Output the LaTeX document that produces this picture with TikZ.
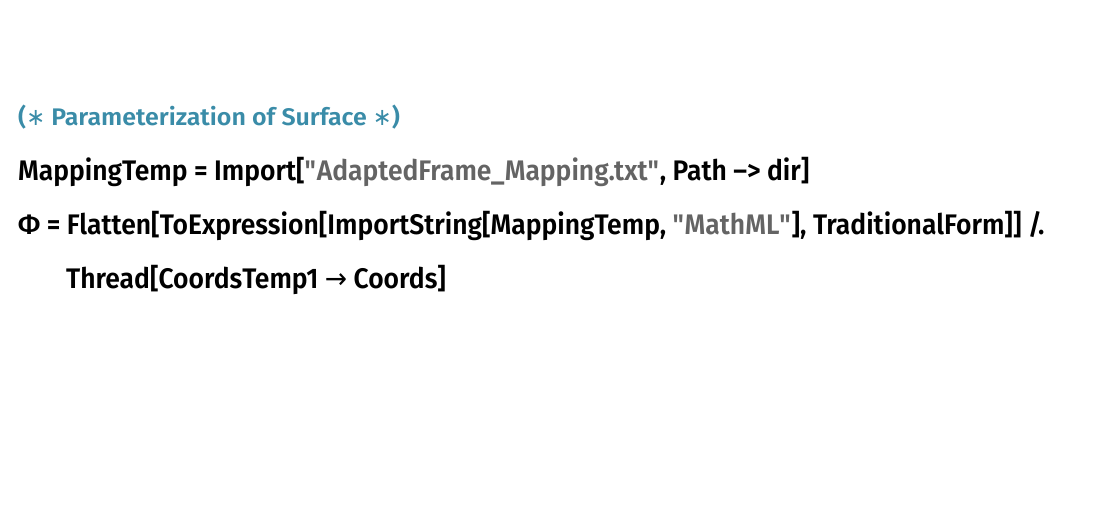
\documentclass[tikz,border=0pt]{standalone}
\usepackage{fontspec}
\setmainfont{Fira Sans}[UprightFont={* SemiBold},FakeStretch=0.935]
\newfontfamily\cmtfont{Fira Sans}[UprightFont={* SemiBold},FakeStretch=1.04]
\newfontfamily\symfont{DejaVu Sans}[FakeStretch=0.94]
\definecolor{cmt}{RGB}{58,140,168}
\definecolor{str}{RGB}{100,100,100}
\newcommand{\qq}{\textquotedbl}
\newcommand{\cs}[1]{\textcolor{str}{\qq#1\qq}}
\newcommand{\astx}{{\symfont ∗}}
\begin{document}
\begin{tikzpicture}[x=1pt,y=1pt,
  codeline/.style={anchor=base west,inner sep=0pt,font=\fontsize{28.3}{32}\selectfont},
  cmtline/.style={anchor=base west,inner sep=0pt,text=cmt,font=\cmtfont\fontsize{24}{28}\selectfont}]
\useasboundingbox (0,0) rectangle (1100,-507);
\node[cmtline] (l1) at (18,-125) {(\astx{} Parameterization of Surface \astx)};
\node[codeline] (l2) at (18,-180) {MappingTemp = Import[\cs{AdaptedFrame\_Mapping.txt}, Path –> dir]};
\node[codeline] (l3) at (18,-234) {Φ = Flatten[ToExpression[ImportString[MappingTemp, \cs{MathML}], TraditionalForm]] /.};
\node[codeline] (l4) at (66,-288) {Thread[CoordsTemp1 {\symfont →} Coords]};
\end{tikzpicture}
\end{document}
